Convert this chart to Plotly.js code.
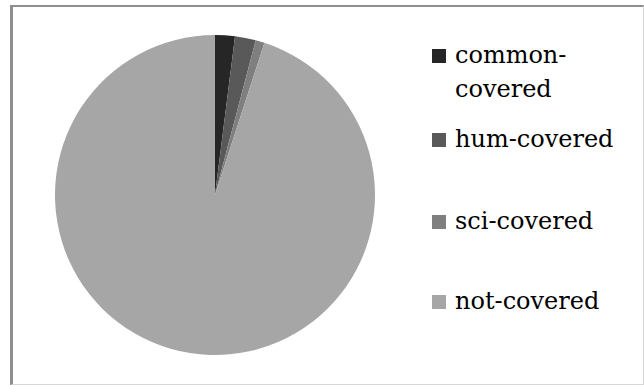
<!DOCTYPE html>
<html>
<head>
<meta charset="utf-8">
<script src="https://cdn.plot.ly/plotly-3.0.1.min.js"></script>
<style>
  html, body { margin: 0; padding: 0; background: #ffffff; }
  #wrap { position: relative; width: 644px; height: 385px; overflow: hidden; }
  #chart { position: absolute; left: 0; top: 0; width: 644px; height: 385px; }
  #frame {
    position: absolute; left: 10px; top: 5px; width: 630px; height: 377px;
    border-left: 3px solid #8e8e8e; border-top: 2px solid #8e8e8e;
    border-right: 1px solid #d6d6d6; border-bottom: 1px solid #d6d6d6;
    pointer-events: none;
  }
</style>
</head>
<body>
<div id="wrap">
  <div id="chart"></div>
  <div id="frame"></div>
</div>
<script>
// Coverage shares (percent of items)
var categories = ['common-covered', 'hum-covered', 'sci-covered', 'not-covered'];
var shares = [2.0, 2.1, 0.9, 95.0];
var sliceColors = ['#262626', '#595959', '#7f7f7f', '#a6a6a6'];

var W = 644, H = 385;
function fx(px) { return px / W; }
function fy(py) { return 1 - py / H; }

// Pie placement in pixels: centre (215,195), radius 160
var cx = 215, cy = 195, r = 160;

var trace = {
  type: 'pie',
  labels: categories,
  values: shares,
  sort: false,
  direction: 'clockwise',
  rotation: 0,
  textinfo: 'none',
  hoverinfo: 'label+percent',
  marker: { colors: sliceColors, line: { width: 0 } },
  domain: { x: [fx(cx - r), fx(cx + r)], y: [fy(cy + r), fy(cy - r)] },
  showlegend: false
};

// Legend drawn beside the pie, one row per category
var rowBaseline = [63, 147, 229, 309];   // text baseline of each row, px
var lineStep = 34;                       // distance between wrapped lines
var swatchX = 432, swatchSize = 14, textX = 453;
var legendFont = { family: 'DejaVu Serif', size: 24, color: '#000000' };

function wrapLabel(s) {
  // long labels break after the hyphen
  if (s.length > 12 && s.indexOf('-') > 0) {
    var i = s.indexOf('-') + 1;
    return [s.slice(0, i), s.slice(i)];
  }
  return [s];
}

var shapes = [], annotations = [];
categories.forEach(function (name, i) {
  var base = rowBaseline[i];
  var yc = base - 7;
  shapes.push({
    type: 'rect', xref: 'paper', yref: 'paper',
    x0: fx(swatchX), x1: fx(swatchX + swatchSize),
    y0: fy(yc + swatchSize / 2), y1: fy(yc - swatchSize / 2),
    fillcolor: sliceColors[i], line: { width: 0 }
  });
  wrapLabel(name).forEach(function (line, k) {
    annotations.push({
      xref: 'paper', yref: 'paper', x: fx(textX), y: fy(base - 24 + k * lineStep),
      xanchor: 'left', yanchor: 'top', align: 'left',
      text: line, showarrow: false, font: legendFont
    });
  });
});

var layout = {
  width: W, height: H,
  margin: { l: 0, r: 0, t: 0, b: 0 },
  paper_bgcolor: '#ffffff',
  showlegend: false,
  shapes: shapes,
  annotations: annotations
};

Plotly.newPlot('chart', [trace], layout, { staticPlot: true, displayModeBar: false });
</script>
</body>
</html>
